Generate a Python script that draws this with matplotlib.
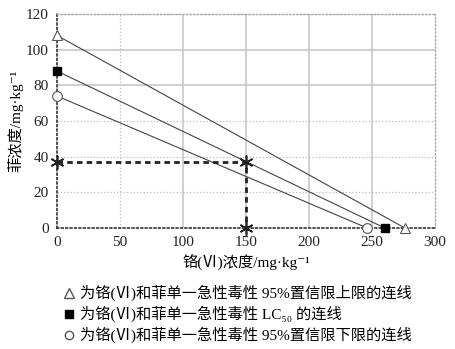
import numpy as np
import matplotlib.pyplot as plt
from matplotlib.lines import Line2D

plt.rcParams['font.family'] = ['Liberation Serif', 'Noto Sans CJK SC', 'DejaVu Serif']

# 铬(VI) 与 菲 的等效应连线端点
cr_upper, phe_upper = [0, 276], [108, 0]
cr_lc50, phe_lc50 = [0, 260], [88, 0]
cr_lower, phe_lower = [0, 246], [74, 0]

# 混合点
mix_cr = 150
mix_phe = 37

fig = plt.figure(figsize=(4.55, 3.49), dpi=100)
ax = fig.add_axes([0.125, 0.347, 0.831, 0.613])

# 网格
for x in [100, 150, 200, 250]:
    ax.axvline(x, color='#c8c8c8', lw=1.2, zorder=0)
for x in [50]:
    ax.axvline(x, color='#bbbbbb', lw=0.9, ls=':', zorder=0)
for y in [80, 100]:
    ax.axhline(y, color='#c8c8c8', lw=1.2, zorder=0)
for y in [20, 40, 60, 120]:
    ax.axhline(y, color='#bbbbbb', lw=0.9, ls=':', zorder=0)

ax.plot(cr_upper, phe_upper, color='#444444', lw=0.8)
ax.plot(cr_lc50, phe_lc50, color='#444444', lw=0.8)
ax.plot(cr_lower, phe_lower, color='#444444', lw=0.8)

ax.plot(cr_upper, phe_upper, ls='none', marker='^', ms=7, mfc='white', mec='#555555', mew=0.8, clip_on=False, zorder=5)
ax.plot(cr_lc50, phe_lc50, ls='none', marker='s', ms=6, mfc='black', mec='black', clip_on=False, zorder=5)
ax.plot(cr_lower, phe_lower, ls='none', marker='o', ms=7, mfc='white', mec='#555555', mew=0.8, clip_on=False, zorder=5)

# 虚线指示混合点
ax.plot([0, mix_cr, mix_cr], [mix_phe, mix_phe, 0], color='#222222', lw=2, ls=(0, (2, 1.5)), zorder=4)
ax.plot([0, mix_cr, mix_cr], [mix_phe, mix_phe, 0], ls='none', marker=(6, 2, 0), ms=10, mec='#222222', mew=1.2, clip_on=False, zorder=6)

ax.set_xlim(0, 300)
ax.set_ylim(0, 120)
ax.set_xticks(np.arange(0, 301, 50))
ax.set_yticks(np.arange(0, 121, 20))
ax.tick_params(length=0, labelsize=11, colors='#222222', pad=6)
for s in ['left', 'bottom']:
    ax.spines[s].set_linestyle(':')
    ax.spines[s].set_color('#333333')
    ax.spines[s].set_linewidth(1.2)
for s in ['top', 'right']:
    ax.spines[s].set_linestyle(':')
    ax.spines[s].set_color('#aaaaaa')
    ax.spines[s].set_linewidth(1.0)

ax.set_xlabel('铬(Ⅵ)浓度/mg·kg⁻¹', fontsize=11, labelpad=3)
ax.set_ylabel('菲浓度/mg·kg⁻¹', fontsize=11, labelpad=2)

handles = [
    Line2D([], [], ls='none', marker='^', ms=7, mfc='white', mec='#555555'),
    Line2D([], [], ls='none', marker='s', ms=6, mfc='black', mec='black'),
    Line2D([], [], ls='none', marker='o', ms=6, mfc='white', mec='#555555'),
]
labels = [
    '为铬(Ⅵ)和菲单一急性毒性 95%置信限上限的连线',
    '为铬(Ⅵ)和菲单一急性毒性 LC₅₀ 的连线',
    '为铬(Ⅵ)和菲单一急性毒性 95%置信限下限的连线',
]
fig.legend(handles, labels, loc='upper left', bbox_to_anchor=(0.125, 0.205), frameon=False,
           fontsize=11, handlelength=0.6, handletextpad=0.4, labelspacing=0.3, borderpad=0)

fig.savefig('out.png', dpi=100)
